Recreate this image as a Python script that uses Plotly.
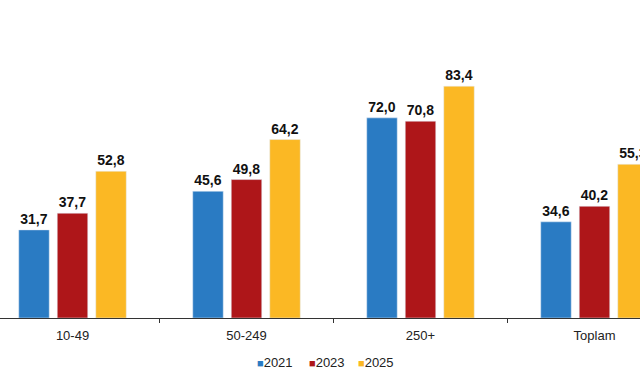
import plotly.graph_objects as go

categories = ["10-49", "50-249", "250+", "Toplam"]
years = ["2021", "2023", "2025"]
values_2021 = [31.7, 45.6, 72.0, 34.6]
values_2023 = [37.7, 49.8, 70.8, 40.2]
values_2025 = [52.8, 64.2, 83.4, 55.3]
series = [values_2021, values_2023, values_2025]
colors = ["#2A7BC3", "#AE1619", "#FBB824"]
legend_x = [0.399, 0.479, 0.556]

fig = go.Figure()
for name, vals, col in zip(years, series, colors):
    fig.add_trace(go.Bar(
        x=categories, y=vals, name=name, marker_color=col,
        text=[f"{v:.1f}".replace(".", ",") for v in vals],
        textposition="outside",
        textfont=dict(family="Liberation Sans, Arial", size=14, color="#111111", weight="bold"),
        cliponaxis=True, showlegend=False,
    ))

# compact legend, as in the reference
for name, col, lx in zip(years, colors, legend_x):
    fig.add_annotation(
        x=lx, y=-0.14, xref="paper", yref="paper", xanchor="left", yanchor="middle",
        showarrow=False,
        text=f"<span style='color:{col};font-size:11px'>■</span>{name}",
        font=dict(family="Liberation Sans, Arial", size=13, color="#222222"),
    )

fig.update_layout(
    width=640, height=375,
    margin=dict(l=0, r=0, t=0, b=57, autoexpand=False),
    plot_bgcolor="white", paper_bgcolor="white",
    barmode="group", bargap=0.336, bargroupgap=0.208,
    font=dict(family="Liberation Sans, Arial", size=13, color="#222222"),
    showlegend=False,
    xaxis=dict(range=[-0.4167, 3.2615], showline=True, linecolor="#333333", linewidth=1,
               ticks="outside", tickson="boundaries", ticklen=4, tickcolor="#333333",
               ticklabelstandoff=5,
               showgrid=False, tickfont=dict(size=13, color="#222222"), automargin=False),
    yaxis=dict(range=[0, 114.4], visible=False, showgrid=False),
)

fig.write_html("out.html", config={"displayModeBar": False},
               post_script="document.body.style.margin='0';")
